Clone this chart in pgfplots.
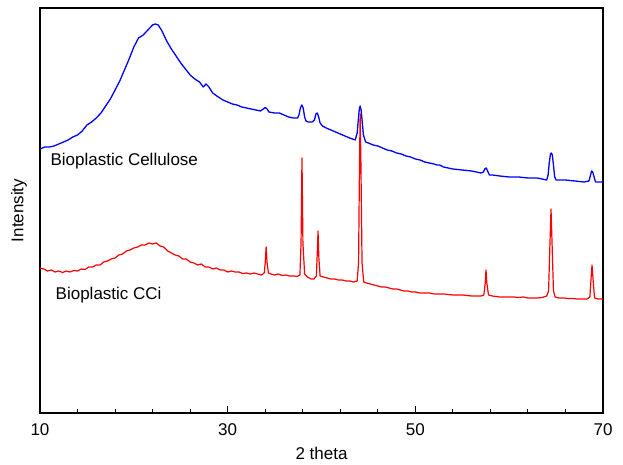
\documentclass[border=0pt]{standalone}
\usepackage{fontspec}
\setmainfont{Liberation Sans}
\usepackage{pgfplots}
\pgfplotsset{compat=1.18}
\begin{document}
\begin{tikzpicture}[x=1pt,y=1pt]
\path[use as bounding box] (-40,-52) rectangle (583,413);
\begin{axis}[at={(0,0)}, anchor=south west, scale only axis,
  width=563pt, height=405pt,
  xmin=10, xmax=70, ymin=0, ymax=405,
  xtick={10,30,50,70}, minor x tick num=4, ytick=\empty,
  xtick pos=bottom, tick align=inside,
  major tick length=7pt, minor tick length=4pt,
  axis line style={line width=1.6pt},
  every tick/.style={line width=1pt, black},
  tick label style={font=\fontsize{17}{20}\selectfont},
  xticklabel style={yshift=-7pt},
  /pgf/number format/assume math mode=true,
  xlabel={2 theta}, ylabel={Intensity},
  label style={font=\fontsize{17}{20}\selectfont},
  xlabel style={at={(axis description cs:0.5,-0.101)}, anchor=center},
  ylabel style={at={(axis description cs:-0.0373,0.5)}, anchor=center},
  clip=false,
]
\addplot[blue, line width=1.3pt, line join=round] coordinates {
(10.0,264)(10.5,266)(11.0,266)(11.5,267)(12.0,269)(12.5,271)(13.0,273)(13.5,276)
(14.0,278)(14.5,282)(15.0,288)(15.5,291)(16.0,295)(16.5,300)(17.0,307)(17.5,314)
(18.0,323)(18.5,332)(19.0,343)(19.5,354)(20.0,366)(20.5,375)(21.0,378)(21.5,383)
(22.0,388)(22.3,389)(22.6,388)(23.0,382)(23.5,372)(24.0,364)(24.5,357)(25.0,350)
(25.5,344)(26.0,338)(26.5,334)(27.0,331)(27.4,326)(27.7,329)(28.0,326)(28.4,320)
(29.0,316)(29.5,313)(30.0,311)(30.5,309)(31.0,308)(31.5,306)(32.0,305)(32.5,304)
(33.0,303)(33.5,302)(33.8,304)(34.0,305.5)(34.2,304)(34.4,301)(35.0,300)(35.5,300)(36.0,298)
(36.5,296)(37.0,295)(37.45,295)(37.6,298)(37.75,305)(37.9,308)(38.05,305)(38.2,296)(38.35,292)(38.6,291)
(39.0,291)(39.25,293)(39.4,299)(39.55,300)(39.7,296)(39.85,290)(40.1,287)(40.5,285)(41.0,283)(41.5,281)
(42.0,279)(42.5,277)(43.0,275)(43.6,273)(43.8,280)(43.93,294)(44.03,304)(44.12,307)(44.22,303)(44.33,292)
(44.47,278)(44.7,271)(45.0,270)(45.5,268)(46.0,267)(46.5,265)(47.0,263)(47.5,262)
(48.0,260)(48.5,259)(49.0,257)(49.5,256)(50.0,254)(50.5,253)(51.0,251)(51.5,250)
(52.0,249)(52.3,248)(52.6,248)(53.0,246)(53.5,245)(54.0,244)(55.0,243)(56.0,242)
(57.0,240)(57.25,241)(57.4,244)(57.55,245)(57.7,242)(57.9,238)(58.2,238)(59.0,237)(60.0,236)(61.0,236)
(62.0,235)(63.0,235)(64.0,233)(64.15,238)(64.27,250)(64.4,259)(64.5,260)(64.6,258)(64.72,248)(64.85,236)
(65.0,233)(66.0,233)(67.0,232)(68.0,231)(68.5,232)(68.65,237)(68.78,242)(68.9,241)(69.05,236)
(69.2,231)(70.0,231)
};
\addplot[red, line width=1.2pt, line join=round] coordinates {
(10.0,145)(10.4,144)(10.8,142)(11.2,143)(11.6,141)(12.0,142)(12.4,140.5)(12.8,142)
(13.2,141)(13.6,142.5)(14.0,142)(14.4,144)(14.8,143.5)(15.2,146)(15.6,146)(16.0,148)
(16.4,148)(16.8,151)(17.2,152)(17.6,154)(18.0,155)(18.4,158)(18.8,159)(19.2,162)
(19.6,163)(20.0,165)(20.4,166)(20.8,168)(21.2,168)(21.6,170)(22.0,169)(22.4,170)
(22.8,167)(23.2,166)(23.6,162)(24.0,160)(24.4,158)(24.8,157)(25.2,154)(25.6,154)
(26.0,151)(26.4,150)(26.8,148)(27.2,149)(27.6,146)(28.0,146)(28.4,144)(28.8,145)
(29.2,143)(29.6,143)(30.0,141)(30.4,142)(30.8,141)(31.2,141)(31.6,139.5)(32.0,140)
(32.4,139)(32.8,140)(33.2,139)(33.6,138)(33.9,140)(34.0,150)(34.1,166)(34.2,150)
(34.35,140)(34.6,139)(35.0,138)(35.4,139)(35.8,137.5)(36.2,138)(36.6,137)(37.0,137)
(37.4,136.5)(37.7,138)(37.82,170)(37.92,255)(38.02,170)(38.2,139)(38.5,136)(38.9,134)
(39.2,134)(39.45,137)(39.55,160)(39.63,182)(39.72,155)(39.85,137)(40.2,136)(40.6,135)
(41.0,134)(41.4,134)(41.8,133)(42.2,133)(42.6,132)(43.0,132)(43.4,131)(43.8,132)
(43.95,150)(44.05,250)(44.12,299)(44.2,250)(44.32,150)(44.5,131)(44.8,130)(45.2,129)
(45.6,128)(46.0,127)(46.4,126)(46.8,126)(47.2,125)(47.6,124)(48.0,124)(48.4,123)
(48.8,122)(49.2,122)(49.6,121)(50.0,121)(50.5,120)(51.0,120)(51.5,120)(52.0,119)
(52.5,119)(53.0,119)(53.5,118.5)(54.0,118)(54.5,118)(55.0,118)(55.5,117.5)(56.0,117)
(56.5,117)(57.0,117)(57.3,118)(57.45,130)(57.53,143)(57.62,130)(57.8,118)(58.2,117)
(58.6,116.5)(59.0,116)(59.5,116)(60.0,116)(60.5,116)(61.0,115.5)(61.5,116)(62.0,115)
(62.5,115)(63.0,115)(63.5,115.5)(64.0,117)(64.2,122)(64.35,170)(64.46,204)(64.57,170)
(64.72,122)(64.9,116)(65.3,115)(65.8,115)(66.3,114.5)(66.8,114.5)(67.3,114)(67.8,114)
(68.3,114)(68.6,116)(68.73,135)(68.83,148)(68.93,135)(69.1,115)(69.5,114)(70.0,114)
};
\node[anchor=west, font=\fontsize{17}{20}\selectfont] at (axis cs:10.75,252) {Bioplastic Cellulose};
\node[anchor=west, font=\fontsize{17}{20}\selectfont] at (axis cs:11.3,118) {Bioplastic CCi};
\end{axis}
\end{tikzpicture}
\end{document}
